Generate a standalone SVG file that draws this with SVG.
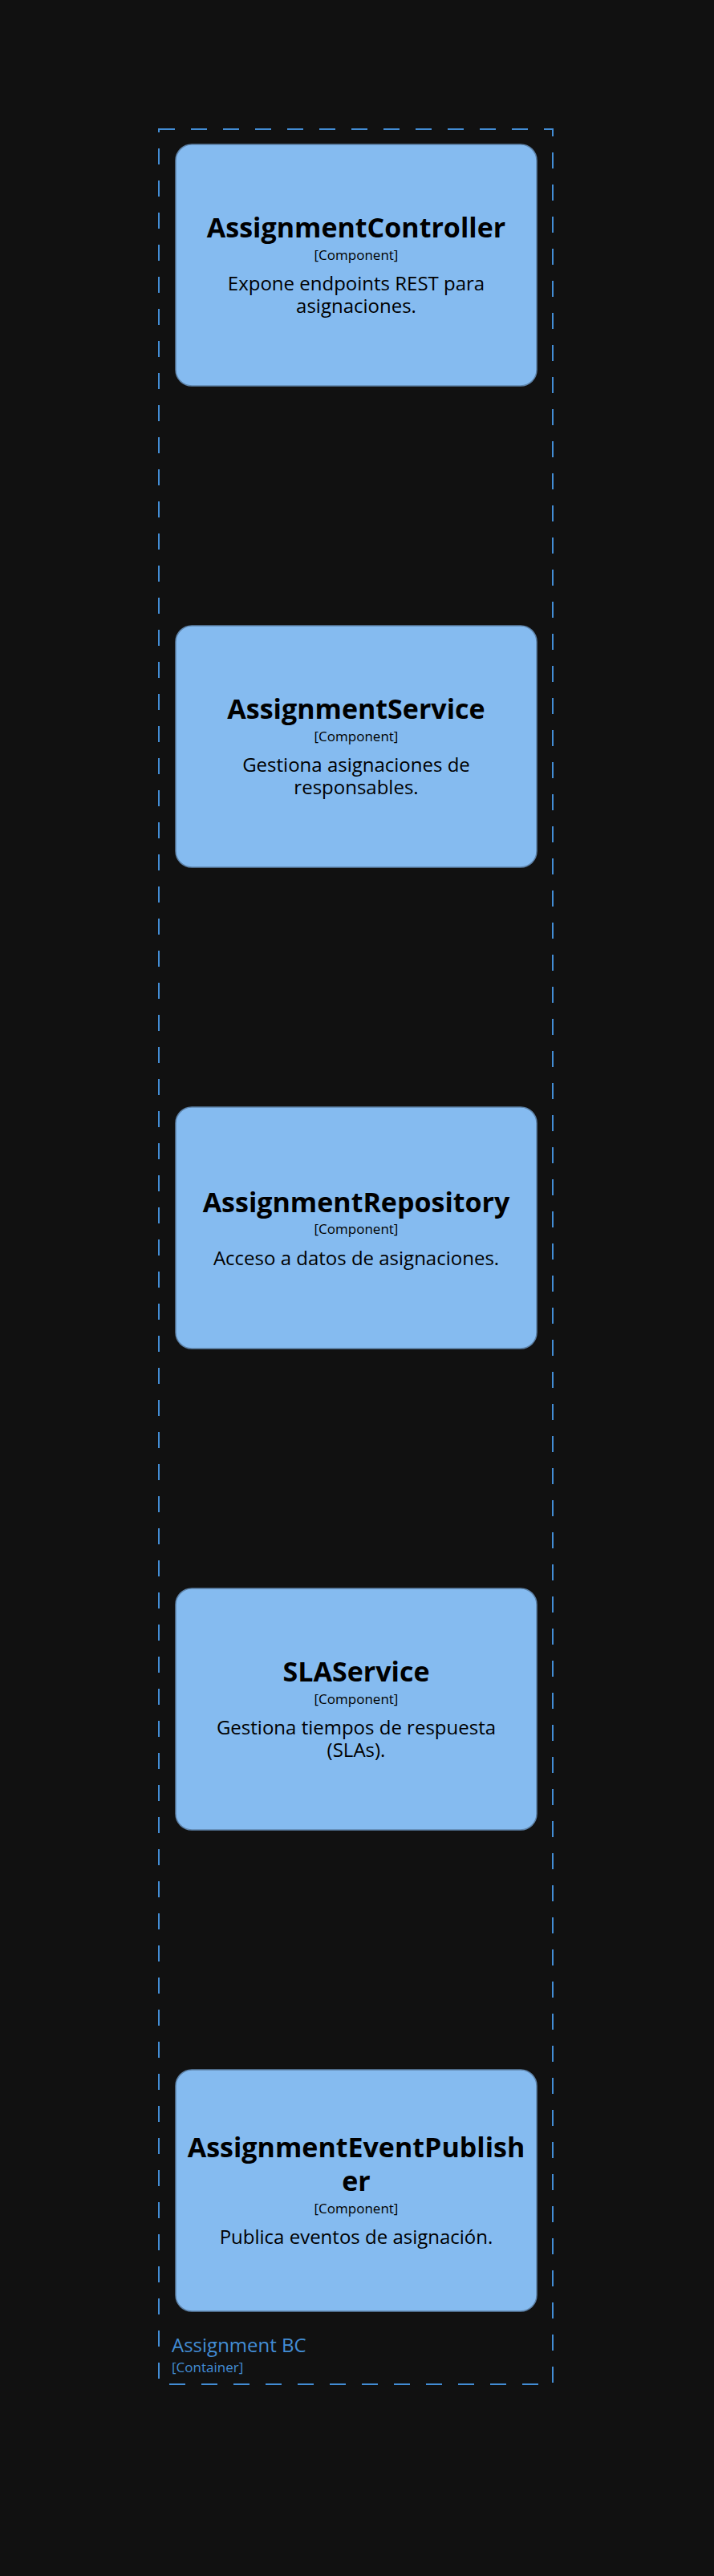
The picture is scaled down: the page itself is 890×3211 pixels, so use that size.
<svg xmlns="http://www.w3.org/2000/svg" width="890" height="3211" viewBox="0 0 890 3211">
<style>
.bg{fill:#111111}
.node rect{fill:#85bbf0;stroke:#5d82a8;stroke-width:1.5}
.t{font-family:"Open Sans","DejaVu Sans",sans-serif;fill:#000000;text-anchor:middle}
.name{font-size:34px;font-weight:bold}
.meta{font-size:17px}
.desc{font-size:24px}
.bound{fill:none;stroke:#438dd5;stroke-width:2;stroke-dasharray:20 20}
.bl{font-family:"Open Sans","DejaVu Sans",sans-serif;fill:#438dd5}
</style>
<rect class="bg" x="0" y="0" width="890" height="3211"/>
<g id="boundary-assignment-bc">
<rect class="bound" x="198" y="161" width="491" height="2811"/>
<text class="bl" x="214" y="2932" font-size="24">Assignment BC</text>
<text class="bl" x="214" y="2957" font-size="17">[Container]</text>
</g>
<g id="connectors"></g>
<g id="node-assignment-controller" class="node">
<rect x="219" y="180" width="450" height="301" rx="20" ry="20"/>
<text class="t name" x="444" y="296">AssignmentController</text>
<text class="t meta" x="444" y="324">[Component]</text>
<text class="t desc" x="444" y="362">Expone endpoints REST para</text>
<text class="t desc" x="444" y="390">asignaciones.</text>
</g>
<g id="node-assignment-service" class="node">
<rect x="219" y="780" width="450" height="301" rx="20" ry="20"/>
<text class="t name" x="444" y="896">AssignmentService</text>
<text class="t meta" x="444" y="924">[Component]</text>
<text class="t desc" x="444" y="962">Gestiona asignaciones de</text>
<text class="t desc" x="444" y="990">responsables.</text>
</g>
<g id="node-assignment-repository" class="node">
<rect x="219" y="1380" width="450" height="301" rx="20" ry="20"/>
<text class="t name" x="444" y="1511">AssignmentRepository</text>
<text class="t meta" x="444" y="1538">[Component]</text>
<text class="t desc" x="444" y="1577">Acceso a datos de asignaciones.</text>
</g>
<g id="node-sla-service" class="node">
<rect x="219" y="1980" width="450" height="301" rx="20" ry="20"/>
<text class="t name" x="444" y="2096">SLAService</text>
<text class="t meta" x="444" y="2124">[Component]</text>
<text class="t desc" x="444" y="2162">Gestiona tiempos de respuesta</text>
<text class="t desc" x="444" y="2190">(SLAs).</text>
</g>
<g id="node-assignment-event-publisher" class="node">
<rect x="219" y="2580" width="450" height="301" rx="20" ry="20"/>
<text class="t name" x="444" y="2689">AssignmentEventPublish</text>
<text class="t name" x="444" y="2731">er</text>
<text class="t meta" x="444" y="2759">[Component]</text>
<text class="t desc" x="444" y="2797">Publica eventos de asignación.</text>
</g>
</svg>
